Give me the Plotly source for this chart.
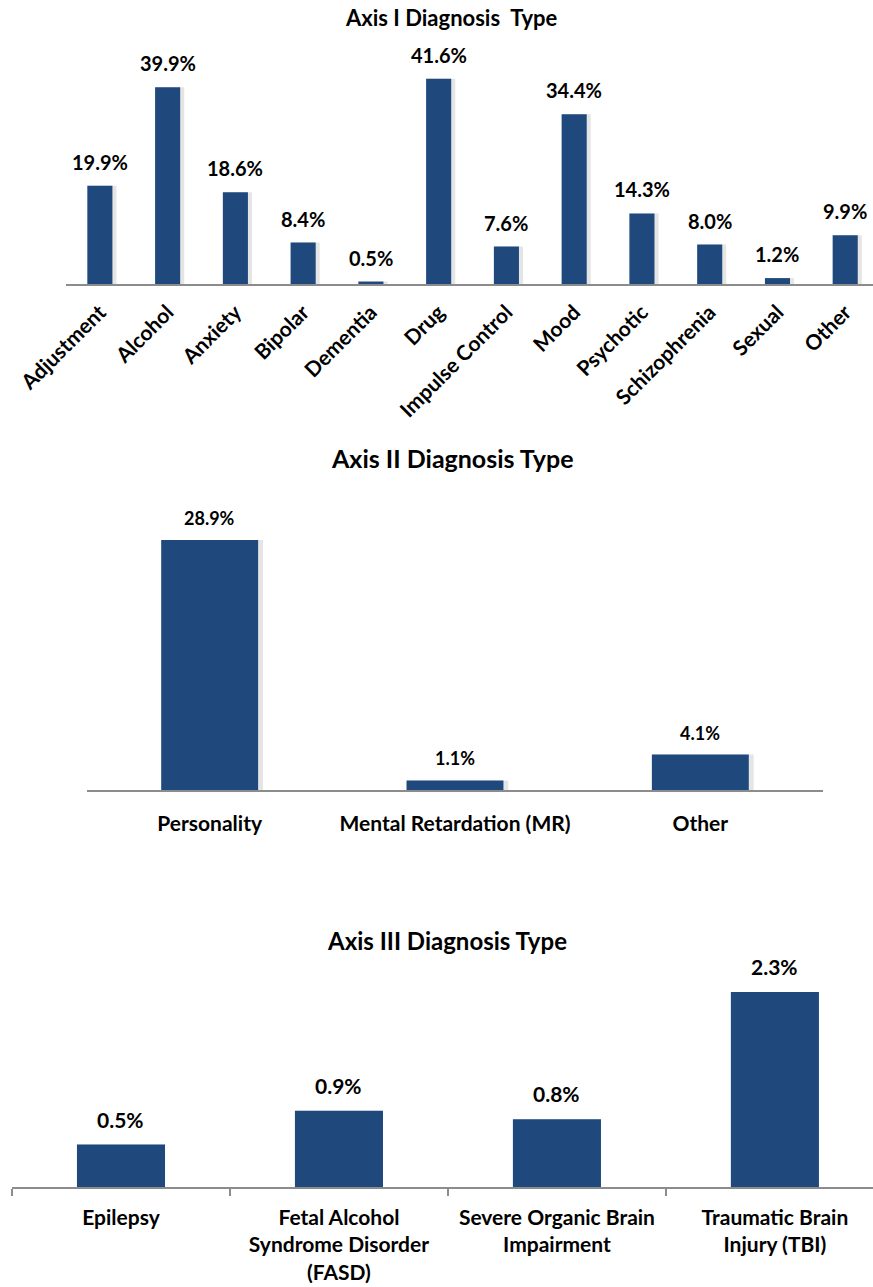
import plotly.graph_objects as go

# ---- data ----
axis1_categories = ["Adjustment", "Alcohol", "Anxiety", "Bipolar", "Dementia", "Drug",
                    "Impulse Control", "Mood", "Psychotic", "Schizophrenia", "Sexual", "Other"]
axis1_values = [19.9, 39.9, 18.6, 8.4, 0.5, 41.6, 7.6, 34.4, 14.3, 8.0, 1.2, 9.9]

axis2_categories = ["Personality", "Mental Retardation (MR)", "Other"]
axis2_values = [28.9, 1.1, 4.1]

axis3_categories = ["Epilepsy", "Fetal Alcohol<br>Syndrome Disorder<br>(FASD)",
                    "Severe Organic Brain<br>Impairment", "Traumatic Brain<br>Injury (TBI)"]
axis3_values = [0.5, 0.9, 0.8, 2.3]

titles = ["Axis I Diagnosis\u00a0 Type", "Axis II Diagnosis Type", "Axis III Diagnosis Type"]

BAR = "#1F497D"
SHADOW = "rgba(0,0,0,0.10)"
AXLINE = "#8c8c8c"
FONT = "Lato, 'Open Sans', sans-serif"
H = 1287.0
W = 873.0

fig = go.Figure()

def add_chart(cats, vals, xa, ya, width, shadow_shift, label_size, gap):
    # shadow
    fig.add_trace(go.Bar(x=cats, y=vals, xaxis=xa, yaxis=ya, width=width + shadow_shift,
                         offset=-width / 2, marker=dict(color=SHADOW, line=dict(width=0)),
                         hoverinfo="skip", showlegend=False))
    fig.add_trace(go.Bar(x=cats, y=vals, xaxis=xa, yaxis=ya, width=width,
                         offset=-width / 2, marker=dict(color=BAR, line=dict(width=0)),
                         showlegend=False))
    for c, v in zip(cats, vals):
        fig.add_annotation(x=c, y=v, xref=xa, yref=ya, text=f"<b>{v:.1f}%</b>", showarrow=False,
                           yanchor="bottom", yshift=gap,
                           font=dict(family=FONT, size=label_size, color="#000000"))

add_chart(axis1_categories, axis1_values, "x", "y", 0.37, 0.06, 20, 10)
add_chart(axis2_categories, axis2_values, "x2", "y2", 0.395, 0.02, 18, 9)
add_chart(axis3_categories, axis3_values, "x3", "y3", 0.404, 0.0, 21, 11)

title_pos = [(451, 18, 22), (452, 458, 25), (447, 940, 24)]
for t, (px, py, sz) in zip(titles, title_pos):
    fig.add_annotation(x=px / W, y=1 - py / H, xref="paper", yref="paper", text=f"<b>{t}</b>",
                       showarrow=False, xanchor="center", yanchor="middle",
                       font=dict(family=FONT, size=sz, color="#000000"))

common_x = dict(type="category", showline=True, linecolor=AXLINE, linewidth=1.5,
                showgrid=False, zeroline=False, fixedrange=True, automargin=False)

fig.update_layout(
    width=873, height=1287,
    margin=dict(l=0, r=0, t=0, b=0, autoexpand=False),
    paper_bgcolor="white", plot_bgcolor="white",
    barmode="overlay", showlegend=False,
    font=dict(family=FONT, color="#000000"),
    xaxis=dict(**common_x, domain=[66 / W, 1.0], range=[-0.5, 11.41], anchor="y",
               tickangle=-45, ticks="", ticklabelstandoff=6,
               tickfont=dict(family=FONT, size=21, color="#000000"),
               tickvals=axis1_categories,
               ticktext=[f"<b>{c}</b>" for c in axis1_categories]),
    yaxis=dict(domain=[1 - 284 / H, 1 - 30 / H], range=[0, 51.5], visible=False,
               fixedrange=True, automargin=False),
    xaxis2=dict(**common_x, domain=[87 / W, 823 / W], range=[-0.5, 2.5], anchor="y2",
                ticks="", ticklabelstandoff=14,
                tickfont=dict(family=FONT, size=21, color="#000000"),
                tickvals=axis2_categories,
                ticktext=[f"<b>{c}</b>" for c in axis2_categories]),
    yaxis2=dict(domain=[1 - 790 / H, 1 - 490 / H], range=[0, 34.68], visible=False,
                fixedrange=True, automargin=False),
    xaxis3=dict(**common_x, domain=[12 / W, 1.0], range=[-0.5, 3.45], anchor="y3",
                ticks="outside", ticklen=7, tickcolor=AXLINE, tickwidth=1.5,
                tickson="boundaries", ticklabelstandoff=11,
                tickfont=dict(family=FONT, size=21, color="#000000"),
                tickvals=axis3_categories,
                ticktext=[f"<b>{c.replace('<br>', '</b><br><b>')}</b>" for c in axis3_categories]),
    yaxis3=dict(domain=[1 - 1187 / H, 1 - 960 / H], range=[0, 2.677], visible=False,
                fixedrange=True, automargin=False),
)

fig.write_html("out.html")
